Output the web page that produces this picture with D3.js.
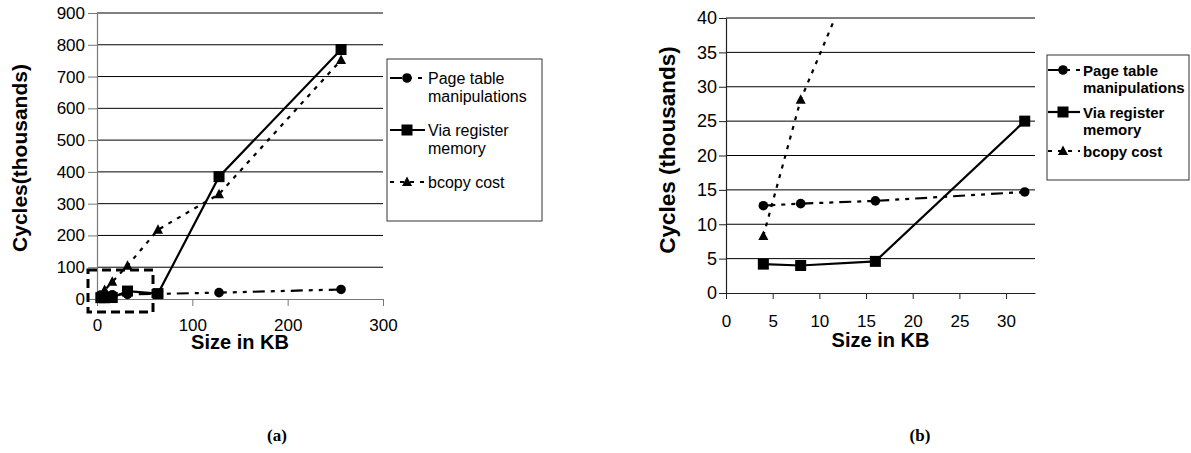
<!DOCTYPE html>
<html>
<head>
<meta charset="utf-8">
<script src="https://d3js.org/d3.v7.min.js"></script>
<style>
  body { margin: 0; background: #fff; }
  svg { display: block; }
  text { font-family: "Liberation Sans", Arial, sans-serif; fill: #000; }
</style>
</head>
<body>
<svg width="1191" height="453"></svg>
<script>
// data (cycles in thousands)
const sizesKB     = [4, 8, 16, 32, 64, 128, 256];
const pageTable   = [12.7, 13.0, 13.4, 14.7, 16, 20, 30];
const viaRegister = [4.2, 4.0, 4.6, 25, 17, 385, 785];
const bcopyCost   = [8.3, 28.1, 54, 105, 218, 330, 752];

const seriesNames = ['Page table manipulations', 'Via register memory', 'bcopy cost'];
const legendLines = [['Page table', 'manipulations'], ['Via register', 'memory'], ['bcopy cost']];

const xTicksA = [0, 100, 200, 300];
const yTicksA = [0, 100, 200, 300, 400, 500, 600, 700, 800, 900];
const xTicksB = [0, 5, 10, 15, 20, 25, 30];
const yTicksB = [0, 5, 10, 15, 20, 25, 30, 35, 40];

const svg = d3.select('svg');

const styles = [
  {dash: '12,6,4,6,4,6', marker: 'circle'},
  {dash: null, marker: 'square'},
  {dash: '4,6', marker: 'triangle'}
];
const allSeries = [pageTable, viaRegister, bcopyCost].map((vals, i) => ({
  name: seriesNames[i],
  points: sizesKB.map((s, j) => ({x: s, y: vals[j]})),
  style: styles[i]
}));

function drawMarker(g, type, x, y) {
  if (type === 'circle') {
    g.append('circle').attr('cx', x).attr('cy', y).attr('r', 4.8).attr('fill', '#000');
  } else if (type === 'square') {
    g.append('rect').attr('x', x - 5.5).attr('y', y - 5.5).attr('width', 11).attr('height', 11).attr('fill', '#000');
  } else {
    g.append('path').attr('d', `M${x},${y - 5.5}L${x + 5},${y + 4}L${x - 5},${y + 4}Z`).attr('fill', '#000');
  }
}

function panel(cfg) {
  const x = d3.scaleLinear().domain(cfg.xDomain).range([cfg.left, cfg.right]);
  const y = d3.scaleLinear().domain(cfg.yDomain).range([cfg.bottom, cfg.top]);
  const g = svg.append('g');

  // gridlines
  g.append('g').selectAll('line').data(cfg.yTicks.filter(d => d > 0)).join('line')
    .attr('x1', cfg.left).attr('x2', cfg.right)
    .attr('y1', d => y(d)).attr('y2', d => y(d))
    .attr('stroke', '#000').attr('stroke-width', 1);

  // axes
  const ya = g.append('g').attr('transform', `translate(${cfg.left},0)`)
    .call(d3.axisLeft(y).tickValues(cfg.yTicks).tickSize(cfg.yTick).tickPadding(cfg.yPad).tickSizeOuter(0));
  const xa = g.append('g').attr('transform', `translate(0,${cfg.bottom})`)
    .call(d3.axisBottom(x).tickValues(cfg.xTicks).tickSize(cfg.xTick).tickPadding(cfg.xPad).tickSizeOuter(0));
  [ya, xa].forEach(a => {
    a.select('.domain').attr('stroke', cfg.axisColor).attr('stroke-width', 1.2);
    a.selectAll('.tick line').attr('stroke', cfg.axisColor);
    a.selectAll('text').attr('font-family', '"Liberation Sans", Arial, sans-serif');
  });
  ya.selectAll('text').attr('font-size', cfg.yFont);
  xa.selectAll('text').attr('font-size', cfg.xFont);

  // titles
  g.append('text').attr('x', (cfg.left + cfg.right) / 2).attr('y', cfg.xTitleY)
    .attr('text-anchor', 'middle').attr('font-weight', 'bold').attr('font-size', 20).text('Size in KB');
  g.append('text').attr('transform', `translate(${cfg.yTitleX},${cfg.yTitleY}) rotate(-90)`)
    .attr('text-anchor', 'middle').attr('font-weight', 'bold').attr('font-size', cfg.yTitleFont).text(cfg.yTitle);

  // clip
  const id = 'clip' + cfg.id;
  svg.append('clipPath').attr('id', id).append('rect')
    .attr('x', cfg.left - 8).attr('y', cfg.top).attr('width', cfg.right - cfg.left + 16).attr('height', cfg.bottom - cfg.top + 10);

  const plot = g.append('g').attr('clip-path', `url(#${id})`);
  const line = d3.line().x(d => x(d.x)).y(d => y(d.y));
  allSeries.forEach(s => {
    const pts = s.points.filter(p => p.x <= cfg.xDomain[1] + 0.1);
    plot.append('path').attr('d', line(pts)).attr('fill', 'none')
      .attr('stroke', '#000').attr('stroke-width', 2.2)
      .attr('stroke-dasharray', s.style.dash);
  });
  allSeries.forEach(s => {
    s.points.filter(p => p.x <= cfg.xDomain[1] + 0.1 && p.y <= cfg.yDomain[1])
      .forEach(p => drawMarker(plot, s.style.marker, x(p.x), y(p.y)));
  });

  // legend
  const L = cfg.legend;
  g.append('rect').attr('x', L.x).attr('y', L.y).attr('width', L.w).attr('height', L.h)
    .attr('fill', '#fff').attr('stroke', '#333').attr('stroke-width', 1);
  allSeries.forEach((s, i) => {
    const cy = L.rows[i];
    const lg = g.append('g');
    lg.append('line').attr('x1', L.x + L.sym[0]).attr('x2', L.x + L.sym[1]).attr('y1', cy).attr('y2', cy)
      .attr('stroke', '#000').attr('stroke-width', 2.2).attr('stroke-dasharray', s.style.dash);
    drawMarker(lg, s.style.marker, L.x + L.sym[2], cy);
    legendLines[i].forEach((t, k) => {
      lg.append('text').attr('x', L.x + L.textX).attr('y', cy + 6 + k * L.lineGap)
        .attr('font-size', L.font).attr('font-weight', L.weight).text(t);
    });
  });

  return {x, y, g};
}

const A = panel({
  id: 'a', xDomain: [0, 300], yDomain: [0, 900],
  left: 97, right: 383, top: 13, bottom: 299, axisColor: '#777',
  xTicks: xTicksA, yTicks: yTicksA, xFont: 17, yFont: 17,
  xTick: 7, xPad: 13, yTick: 9, yPad: 3,
  xTitleY: 349, yTitleX: 27, yTitleY: 158, yTitle: 'Cycles(thousands)', yTitleFont: 21,
  legend: {x: 387, y: 59, w: 155, h: 162, rows: [78, 130, 182], lineGap: 18, font: 16, weight: 'normal',
           sym: [3, 38, 20], textX: 41}
});

// dashed box marking the zoomed region of (b)
A.g.append('rect').attr('x', 88).attr('y', 270).attr('width', 65).attr('height', 42)
  .attr('fill', 'none').attr('stroke', '#000').attr('stroke-width', 3).attr('stroke-dasharray', '9,5');

panel({
  id: 'b', xDomain: [0, 33.1], yDomain: [0, 40],
  left: 726, right: 1035, top: 18, bottom: 293, axisColor: '#222',
  xTicks: xTicksB, yTicks: yTicksB, xFont: 17, yFont: 18,
  xTick: 6, xPad: 16, yTick: 7, yPad: 2,
  xTitleY: 347, yTitleX: 675, yTitleY: 150, yTitle: 'Cycles (thousands)', yTitleFont: 22.5,
  legend: {x: 1047, y: 55, w: 142, h: 125, rows: [70, 112, 151], lineGap: 17, font: 15, weight: 'bold',
           sym: [1, 33, 16], textX: 36}
});

// captions
svg.append('text').attr('x', 277).attr('y', 441).attr('text-anchor', 'middle')
  .style('font-family', '"Liberation Serif", "Times New Roman", serif')
  .attr('font-weight', 'bold').attr('font-size', 17).text('(a)');
svg.append('text').attr('x', 920).attr('y', 441).attr('text-anchor', 'middle')
  .style('font-family', '"Liberation Serif", "Times New Roman", serif')
  .attr('font-weight', 'bold').attr('font-size', 17).text('(b)');
</script>
</body>
</html>
